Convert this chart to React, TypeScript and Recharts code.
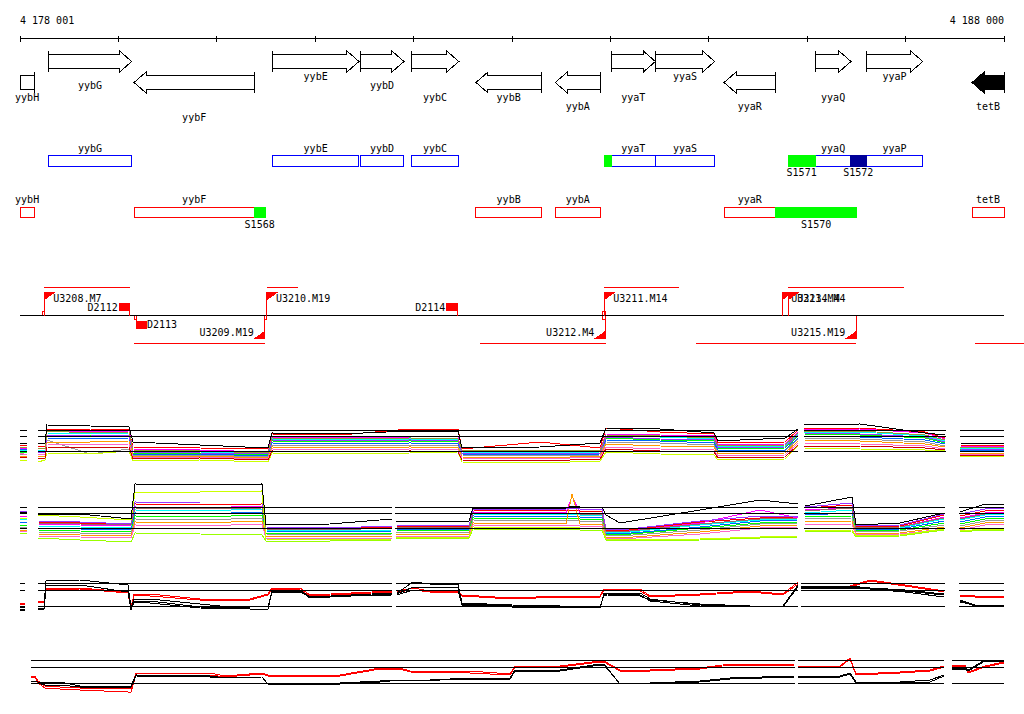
import React from 'react'
import { ComposedChart, XAxis, YAxis, Line, ReferenceLine, ReferenceArea, ReferenceDot } from 'recharts'

const X0 = 4178000
const X1 = 4188000
const G = null

// ---- ruler ----
const rulerTicks = [4178000, 4179000, 4180000, 4181000, 4182000, 4183000, 4184000, 4185000, 4186000, 4187000, 4188000]
const rulerLabelPos = [4178000, 4188000]
const rulerLabels = ['4 178 001', '4 188 000']

// ---- genes ----
const geneNames = ['yybH', 'yybG', 'yybF', 'yybE', 'yybD', 'yybC', 'yybB', 'yybA', 'yyaT', 'yyaS', 'yyaR', 'yyaQ', 'yyaP', 'tetB']
const geneStart = [4177950, 4178288, 4179159, 4180564, 4181458, 4181977, 4182634, 4183440, 4184009, 4184457, 4185155, 4186082, 4186600, 4187675]
const geneEnd = [4178145, 4179135, 4180381, 4181445, 4181902, 4182459, 4183298, 4183897, 4184457, 4185060, 4185676, 4186445, 4187174, 4188000]
const geneStrand = ['-', '+', '-', '+', '+', '+', '-', '-', '+', '+', '-', '+', '+', '-']
const highlighted = ['tetB']

// ---- sites ----
const siteNames = ['', 'S1568', 'S1570', 'S1571', 'S1572']
const siteStart = [4183945, 4180381, 4185676, 4185805, 4186438]
const siteEnd = [4184009, 4180490, 4186506, 4186082, 4186600]
const siteStrand = ['+', '-', '-', '+', '+']
const siteClass = ['a', 'a', 'a', 'a', 'b']

// ---- transcription units ----
const promoterNames = ['U3208.M7', 'U3209.M19', 'U3210.M19', 'U3211.M14', 'U3212.M4', 'U3213.M4', 'U3214.M4', 'U3215.M19']
const promoterPos = [4178247, 4180487, 4180510, 4183938, 4183948, 4185747, 4185808, 4186499]
const promoterStrand = ['+', '-', '+', '+', '-', '+', '+', '-']

const termNames = ['D2112', 'D2113', 'D2114']
const termPos = [4179115, 4179179, 4182444]
const termStrand = ['+', '-', '+']

const txStart = [4178247, 4180510, 4183938, 4185808, 4179159, 4182675, 4184870, 4187709]
const txEnd = [4179115, 4180822, 4184694, 4186981, 4180487, 4183952, 4186499, 4188200]
const txStrand = ['+', '+', '+', '+', '-', '-', '-', '-']

const tssStart = [4178227, 4179159, 4180480, 4183922]
const tssEnd = [4178247, 4179189, 4180510, 4183952]
const tssSide = ['up', 'down', 'down', 'both']

// ---- panel 1 ----
const p1Pos = [4178000, 4178071, 4178122, 4178183, 4178254, 4178274, 4178711, 4179108, 4179148, 4179829, 4180520, 4180561, 4181252, 4181964, 4182451, 4182492, 4183285, 4183895, 4183955, 4184504, 4185053, 4185094, 4185775, 4185907, 4185937, 4185968, 4186537, 4187198, 4187401, 4187472, 4187553, 4188000]
const p1Refs = [0, 1.5, 2.1]
const p1Segments = [[4178000, 4178068], [4178183, 4185907], [4185968, 4187408], [4187550, 4188000]]
const p1Lines = [
  [0.6, 0.5, G, 0.4, 0.5, 2.2, 2.2, 2.1, 0.4, 0.3, 0.2, 1.7, 1.6, 2.2, 2.2, 0.2, 0.9, 0.3, 2.3, 1.9, 1.7, 0.8, 0.9, 2.1, G, 2.3, 2.3, 1.9, 1.3, G, 0.6, 0.5],
  [0.3, 0.2, G, 0.2, 0.3, 2.0, 1.9, 2.0, 0.2, 0.1, -0.1, 1.4, 1.3, 1.4, 1.4, 0.0, 0.0, 0.1, 1.7, 1.6, 1.5, 0.6, 0.7, 1.9, G, 2.1, 2.2, 1.8, 1.2, G, 0.5, 0.4],
  [0.1, 0.0, G, 0.1, 0.1, 1.8, 1.7, 1.8, 0.0, -0.1, -0.2, 1.2, 1.1, 1.2, 1.1, -0.1, -0.2, -0.1, 1.5, 1.4, 1.2, 0.4, 0.5, 1.7, G, 1.9, 1.9, 1.5, 1.0, G, 0.3, 0.3],
  [-0.1, -0.2, G, -0.1, -0.2, 1.5, 1.5, 1.6, -0.2, -0.2, -0.4, 1.0, 0.9, 1.0, 0.9, -0.2, -0.3, -0.2, 1.3, 1.1, 1.0, 0.2, 0.3, 1.5, G, 1.7, 1.6, 1.3, 0.8, G, 0.1, 0.2],
  [0.2, 0.1, G, 0.0, 0.0, 1.3, 1.2, 1.3, -0.3, -0.3, -0.5, 0.8, 0.7, 0.8, 0.7, -0.3, -0.4, -0.3, 1.1, 1.0, 0.8, 0.1, 0.1, 1.3, G, 1.5, 1.4, 1.1, 0.7, G, 0.0, 0.1],
  [-0.3, -0.3, G, -0.3, -0.4, 1.1, -0.3, 0.2, -0.4, -0.4, -0.6, 0.6, 0.6, 0.6, 0.5, -0.4, -0.5, -0.4, 0.9, 0.8, 0.6, -0.1, 0.0, 1.2, G, 1.3, 1.2, 0.9, 0.5, G, -0.1, 0.0],
  [-0.5, -0.5, G, -0.5, -0.5, 0.9, 0.9, 1.0, -0.5, -0.5, -0.7, 0.4, 0.3, 0.4, 0.3, -0.6, -0.7, -0.5, 0.7, 0.5, 0.4, -0.3, -0.2, 1.0, G, 1.1, 1.0, 0.7, 0.4, G, -0.2, -0.2],
  [-1.0, -0.9, G, -1.1, -0.9, -0.2, -0.3, 0.0, -1.0, -0.9, -1.1, -0.2, -0.3, -0.2, -0.1, -1.1, -1.2, -1.0, -0.1, -0.3, -0.4, -0.9, -0.8, 0.5, G, 0.3, 0.2, 0.1, 0.0, G, -0.6, -0.5],
  [0.0, -0.1, G, -0.2, -0.1, 1.6, 1.6, 1.5, -0.1, -0.2, -0.3, 1.1, 1.0, 1.1, 1.0, -0.2, -0.2, -0.2, 1.4, 1.2, 1.1, 0.3, 0.4, 1.6, G, 1.8, 1.7, 1.4, 0.9, G, 0.2, 0.1],
  [-0.2, -0.4, G, -0.4, -0.3, 0.7, 0.6, 0.7, -0.6, -0.6, -0.8, 0.2, 0.1, 0.2, 0.1, -0.7, -0.8, -0.6, 0.4, 0.2, 0.1, -0.5, -0.4, 0.8, G, 0.8, 0.7, 0.5, 0.2, G, -0.3, -0.3],
  [-0.7, -0.6, G, -0.8, -0.7, 0.4, 0.3, 0.4, -0.8, -0.7, -0.9, 0.0, -0.1, 0.0, -0.1, -0.9, -1.0, -0.8, 0.2, 0.0, -0.1, -0.7, -0.6, 0.6, G, 0.5, 0.5, 0.3, 0.1, G, -0.5, -0.4],
  [0.4, 0.3, G, 0.3, 0.2, 2.0, 1.8, 1.9, 0.1, 0.0, -0.2, 1.3, 1.2, 1.3, 1.2, 0.1, 0.1, 0.0, 1.6, 1.5, 1.3, 0.5, 0.6, 1.8, G, 2.0, 2.0, 1.6, 1.1, G, 0.4, 0.4],
]
const p1Colors = ['#ff0000', '#ff00ff', '#00ffff', '#00ff00', '#0066ff', '#999999', '#ff9900', '#ccff00', '#9933ff', '#ff66cc', '#cc0000', '#999933']
const p1Black = [
  [0.8, 0.8, G, 0.8, 0.8, 2.6, 2.5, 2.4, 0.9, 0.6, 0.3, 1.8, 1.7, 2.0, 2.0, 0.3, 0.4, 0.8, 2.3, 2.2, 1.8, 1.0, 1.3, 2.2, G, 2.6, 2.7, 1.8, 1.6, G, 0.8, 0.7],
]

// ---- panel 2 ----
const p2Pos = [4178000, 4178071, 4178122, 4178183, 4178610, 4179128, 4179169, 4179829, 4180459, 4180500, 4181151, 4181781, 4181801, 4181821, 4182563, 4182604, 4183549, 4183610, 4183691, 4183915, 4183955, 4184098, 4184911, 4185521, 4185907, 4185937, 4185978, 4186456, 4186496, 4186943, 4187391, 4187472, 4187553, 4187807, 4188000]
const p2Refs = [0, 1.5, 2.1]
const p2Segments = [[4178000, 4178068], [4178183, 4181781], [4181814, 4185907], [4185971, 4187398], [4187543, 4188000]]
const p2Lines = [
  [1.5, 1.4, G, 0.6, 0.5, 0.3, 2.4, 2.3, 2.4, 0.0, -0.1, 0.1, G, 0.2, 0.1, 1.8, 1.7, 1.8, 1.7, 1.7, -0.2, -0.3, 0.6, 1.0, 1.1, G, 2.0, 2.3, 0.1, 0.2, 1.3, G, 1.2, 1.7, 1.8],
  [1.2, 1.1, G, 0.4, 0.3, 0.2, 2.1, 2.0, 2.2, -0.1, -0.2, 0.0, G, 0.1, 0.0, 1.6, 1.5, 3.2, 1.5, 1.5, -0.3, -0.4, 0.5, 1.8, 1.0, G, 1.8, 2.0, 0.0, 0.1, 1.1, G, 1.0, 1.5, 1.6],
  [0.9, 0.9, G, 0.2, 0.1, 0.0, 1.8, 1.7, 1.9, -0.2, -0.3, -0.2, G, 0.0, -0.1, 1.4, 1.3, 1.4, 1.3, 1.3, -0.4, -0.5, 0.3, 0.8, 0.9, G, 1.5, 1.8, -0.1, 0.0, 0.9, G, 0.8, 1.3, 1.4],
  [0.6, 0.6, G, 0.0, -0.1, -0.2, 1.5, 1.4, 1.6, -0.3, -0.4, -0.3, G, -0.1, -0.2, 1.2, 1.1, 1.2, 1.1, 1.1, -0.5, -0.6, 0.1, 0.7, 0.8, G, 1.3, 1.5, -0.2, -0.1, 0.7, G, 0.6, 1.1, 1.2],
  [0.3, 0.3, G, -0.2, -0.3, -0.4, 1.2, 1.1, 1.3, -0.5, -0.5, -0.5, G, -0.2, -0.3, 1.0, 0.9, 1.0, 0.9, 0.9, -0.6, -0.7, 0.0, 0.5, 0.6, G, 1.1, 1.2, -0.3, -0.2, 0.5, G, 0.4, 0.9, 1.0],
  [0.0, 0.1, G, -0.4, -0.5, -0.5, 0.9, 0.8, 1.0, -0.6, -0.7, -0.6, G, -0.4, -0.4, 0.8, 0.7, 0.8, 0.7, 0.7, -0.7, -0.8, -0.2, 0.4, 0.5, G, 0.9, 1.0, -0.4, -0.3, 0.3, G, 0.2, 0.7, 0.8],
  [-0.2, -0.2, G, -0.6, -0.7, -0.8, 0.6, 0.5, 0.7, -0.8, -0.8, -0.8, G, -0.6, -0.6, 0.5, 0.4, 3.4, 0.4, 0.4, -0.9, -1.0, -0.4, 0.2, 0.3, G, 0.6, 0.7, -0.6, -0.5, 0.1, G, 0.0, 0.5, 0.6],
  [1.7, 1.6, G, 0.7, 0.6, 0.4, 2.6, 2.5, 2.5, 0.1, 0.0, 0.2, G, 0.3, 0.2, 1.9, 1.9, 2.0, 1.9, 1.9, -0.1, -0.2, 0.7, 1.2, 1.2, G, 2.1, 2.5, 0.2, 0.3, 1.4, G, 1.4, 1.9, 2.0],
  [1.0, 0.9, G, 0.5, 0.4, 0.3, 2.0, 1.9, 2.0, -0.1, -0.2, 0.0, G, 0.1, 0.0, 1.5, 1.4, 1.5, 1.4, 1.4, -0.3, -0.4, 0.4, 0.9, 1.0, G, 1.7, 2.0, 0.0, 0.1, 1.0, G, 0.9, 1.4, 1.5],
  [-0.4, -0.3, G, -0.8, -0.9, -1.0, 0.3, 0.2, 0.4, -1.0, -1.0, -1.0, G, -0.8, -0.8, 0.3, 0.2, 0.3, 0.2, 0.2, -1.0, -1.1, -0.6, 0.0, 0.1, G, 0.3, 0.4, -0.7, -0.6, -0.1, G, -0.2, 0.3, 0.4],
  [-0.5, -0.5, G, -1.0, -1.2, -1.4, -0.5, -0.6, -0.7, -1.3, -1.3, -1.2, G, -1.0, -1.0, -0.1, -0.2, -0.1, -0.2, -0.2, -1.2, -1.3, -1.2, -1.0, -0.9, G, -0.4, -0.3, -0.9, -0.8, -0.2, G, -0.4, -0.2, -0.2],
  [1.0, 0.9, G, 1.3, 1.1, 0.8, 3.6, 3.6, 3.7, -1.1, -1.2, -1.1, G, -0.9, -0.9, 0.1, 0.0, 0.1, 0.0, 0.0, -1.1, -1.2, -1.1, -0.9, -0.8, G, -0.3, -0.2, -0.8, -0.7, -0.1, G, -0.3, -0.1, -0.1],
]
const p2Colors = ['#ff0000', '#ff00ff', '#00ffff', '#0066ff', '#00ff00', '#999999', '#ff9900', '#9933ff', '#996666', '#ff66cc', '#99ff00', '#ccff00']
const p2Black = [
  [1.6, 1.6, G, 1.4, 1.4, 0.9, 4.4, 4.3, 4.4, 0.3, 0.4, 0.9, G, 0.7, 0.7, 2.0, 2.0, 2.2, 2.1, 2.1, 1.3, 0.5, 1.8, 2.8, 2.4, G, 2.2, 3.1, 0.3, 0.5, 1.5, G, 1.6, 2.4, 2.4],
]

// ---- panel 3 ----
const p3Pos = [4178000, 4178051, 4178102, 4178183, 4178244, 4178264, 4178610, 4179098, 4179128, 4179159, 4179321, 4179829, 4180337, 4180520, 4180561, 4180846, 4180948, 4181781, 4181801, 4181831, 4181994, 4182168, 4182451, 4182492, 4183000, 4183488, 4183895, 4183935, 4183966, 4184301, 4184403, 4184911, 4185419, 4185754, 4185907, 4185922, 4185937, 4186435, 4186639, 4186994, 4187391, 4187472, 4187553, 4187706, 4188000]
const p3Refs = [0, 1.6, 2.3]
const p3Segments = [[4178000, 4178051], [4178183, 4181781], [4181818, 4185907], [4185937, 4187398], [4187543, 4188000]]
const p3Lines = [
  [0.3, 0.3, G, 0.5, 0.5, 1.8, 1.8, 1.4, -0.2, 1.2, 1.2, 0.7, 0.7, 1.2, 1.8, 1.8, 1.1, 1.5, G, 1.5, 1.8, 1.5, 1.5, 1.1, 0.8, 1.0, 1.0, 1.7, 1.7, 1.7, 1.0, 1.2, 1.5, 1.2, 2.4, G, 2.0, 2.0, 2.6, 2.1, 1.5, G, 1.1, 1.0, 0.9],
  [0.2, 0.2, G, 0.4, 0.4, 1.6, 1.7, 1.3, -0.4, 1.1, 1.0, 0.6, 0.6, 1.1, 1.7, 1.6, 1.0, 1.4, G, 1.4, 1.6, 1.4, 1.4, 1.0, 0.7, 0.9, 0.9, 1.6, 1.6, 1.5, 0.9, 1.1, 1.4, 1.1, 2.2, G, 1.9, 1.9, 2.5, 2.0, 1.4, G, 1.0, 0.9, 0.8],
]
const p3Colors = ['#ff0000', '#ff0000']
const p3Black = [
  [-0.1, -0.1, G, 0.0, 0.0, 2.5, 2.6, 2.1, -0.2, 0.7, 0.7, 0.2, -0.3, -0.3, 1.6, 1.6, 0.9, 1.3, G, 1.3, 2.4, 2.2, 2.2, 0.3, 0.1, 0.0, -0.2, 1.3, 1.3, 1.3, 0.7, 0.1, 0.0, 0.0, 2.1, G, 2.0, 2.0, 1.8, 1.6, 1.2, G, 0.6, 0.1, 0.1],
  [-0.3, -0.3, G, -0.2, -0.2, 2.1, 2.1, 1.4, -0.3, 0.5, 0.5, -0.1, -0.2, -0.2, 1.5, 1.5, 0.8, 1.2, G, 1.2, 1.9, 1.9, 1.9, 0.2, 0.0, -0.1, -0.2, 1.2, 1.2, 1.1, 0.5, 0.0, -0.1, -0.1, 2.0, G, 1.9, 1.9, 1.7, 1.5, 1.1, G, 0.5, 0.0, 0.0],
  [-0.4, -0.4, G, -0.3, -0.3, 1.6, 1.6, 1.5, -0.4, 0.4, 0.3, -0.2, -0.3, -0.3, 1.4, 1.4, 0.9, 1.1, G, 1.1, 1.6, 1.6, 1.6, 0.1, -0.1, -0.1, -0.1, 1.1, 1.1, 1.0, 0.6, 0.2, 0.0, 0.0, 1.9, G, 1.8, 1.8, 1.7, 1.4, 0.9, G, 0.4, 0.1, 0.1],
]

// ---- panel 4 ----
const p4Pos = [4178112, 4178152, 4178183, 4178254, 4178407, 4178610, 4179098, 4179128, 4179179, 4179931, 4180083, 4180459, 4180520, 4181252, 4181659, 4181862, 4181964, 4182573, 4182980, 4183031, 4183488, 4183895, 4183935, 4184098, 4184403, 4184911, 4185216, 4185866, 4185887, 4185907, 4186334, 4186435, 4186496, 4186943, 4187248, 4187391, 4187431, 4187472, 4187604, 4187635, 4187807, 4188000]
const p4Refs = [0, 1.6, 2.3]
const p4Segments = [[4178112, 4185873], [4185907, 4187391], [4187472, 4188000]]
const p4Lines = [
  [0.7, 0.7, 0.2, -0.3, -0.4, -0.5, -0.5, -0.5, 1.0, 1.0, 0.7, 1.0, 0.8, 0.8, 1.5, 1.5, 1.2, 1.2, 0.9, 1.7, 1.7, 2.2, 2.2, 1.3, 1.3, 1.5, 1.9, 1.9, G, 1.7, 1.7, 2.5, 0.9, 1.1, 1.3, 1.7, G, 1.8, 1.8, 1.1, 1.7, 2.1],
  [0.6, 0.6, 0.0, -0.5, -0.6, -0.7, -0.9, -0.9, 0.8, 0.8, 0.6, 0.9, 0.7, 0.7, 1.4, 1.4, 1.1, 1.0, 0.8, 1.6, 1.6, 2.1, 2.1, 1.2, 1.2, 1.4, 1.8, 1.8, G, 1.6, 1.6, 2.4, 0.8, 1.0, 1.2, 1.6, G, 1.7, 1.7, 1.0, 1.6, 2.0],
]
const p4Colors = ['#ff0000', '#ff0000']
const p4Black = [
  [0.2, 0.2, 0.1, 0.1, 0.1, -0.3, -0.3, -0.3, 0.8, 0.7, 0.5, 0.6, -0.1, -0.1, 0.1, 0.3, 0.2, 0.5, 0.5, 1.3, 1.3, 1.9, 1.9, -0.1, 0.0, 0.2, 0.5, 0.7, G, 0.7, 0.7, 1.0, 0.1, 0.1, 0.3, 0.8, G, 1.5, 1.5, 1.3, 2.3, 2.3],
  [0.0, 0.0, 0.0, -0.2, -0.2, -0.4, -0.4, -0.4, 0.7, 0.6, 0.5, 0.6, -0.1, 0.0, 0.2, 0.3, 0.2, 0.4, 0.4, 1.2, 1.2, 1.8, 1.8, -0.1, 0.0, 0.1, 0.4, 0.6, G, 0.6, 0.6, 0.9, 0.0, 0.0, 0.1, 0.7, G, 1.4, 1.4, 1.2, 2.2, 2.2],
]

// ---- layout ----
const W = 1024
const MARGIN = { top: 0, right: 20, bottom: 0, left: 20 }
const TOP_H = 360
const ROW = {
  ruler: 38.5,
  rulerLabel: 24,
  tick: 3,
  fwdGene: [51, 72],
  revGene: [72, 93],
  geneLabel: [80, 89, 101, 109.5, 121],
  fwdBox: [155.5, 166.5],
  fwdBoxLabel: 152,
  fwdSiteLabel: 176,
  revBox: [207.5, 217.5],
  revBoxLabel: 203,
  revSiteLabel: 228,
  fwdTx: 287.5,
  baseline: 315.5,
  revTx: 343.5,
}
const geneLabelRow = [2, 1, 4, 0, 1, 2, 2, 3, 2, 0, 3, 2, 0, 3]
const FONT = { fontFamily: '"DejaVu Sans Mono", monospace', fontSize: 10, fill: '#000' }
const RED = '#ff0000'
const BOX_STROKE = { '+': '#0000ff', '-': '#ff0000' }
const SITE_FILL = { a: '#00ff00', b: '#000099' }

function GeneGlyph(p: any) {
  const { x, y, width, height, strand, filled, clipped, label, labelY } = p
  const hl = clipped ? 0 : Math.min(12, width)
  const t = y + 3
  const b = y + height - 4
  const m = y + height / 2
  let pts: number[][]
  if (clipped) {
    pts = [[x, t], [x + width, t], [x + width, b], [x, b]]
  } else if (strand === '+') {
    const hx = x + width - hl
    pts = [[x, t], [hx, t], [hx, y], [x + width, m], [hx, y + height], [hx, b], [x, b]]
  } else {
    const hx = x + hl
    pts = [[x + width, t], [hx, t], [hx, y], [x, m], [hx, y + height], [hx, b], [x + width, b]]
  }
  const tail = strand === '+' ? x : x + width
  return (
    <g>
      <polygon points={pts.map((q) => q.join(',')).join(' ')} fill={filled ? '#000' : '#fff'} stroke="#000" strokeWidth={1} />
      <line x1={tail} x2={tail} y1={y} y2={y + height} stroke="#000" />
      <text x={x + width / 2} y={labelY} textAnchor="middle" {...FONT}>{label}</text>
    </g>
  )
}

function BoxGlyph(p: any) {
  const { x, y, width, height, boxFill, boxStroke, label, labelY } = p
  return (
    <g>
      <rect x={x} y={y} width={width} height={height} fill={boxFill} stroke={boxStroke} strokeWidth={1} />
      {label ? <text x={x + width / 2} y={labelY} textAnchor="middle" {...FONT}>{label}</text> : null}
    </g>
  )
}

function PromoterGlyph(p: any) {
  const { cx, cy, strand, label } = p
  if (strand === '+') {
    const top = cy - 23
    return (
      <g>
        <line x1={cx} x2={cx} y1={cy} y2={top} stroke={RED} />
        <polygon points={`${cx},${top} ${cx + 10},${top} ${cx},${top + 7}`} fill={RED} stroke={RED} />
        <text x={cx + 9} y={cy - 14} {...FONT}>{label}</text>
      </g>
    )
  }
  const bot = cy + 23
  return (
    <g>
      <line x1={cx} x2={cx} y1={cy} y2={bot} stroke={RED} />
      <polygon points={`${cx},${bot} ${cx - 10},${bot} ${cx},${bot - 7}`} fill={RED} stroke={RED} />
      <text x={cx - 11} y={cy + 20} textAnchor="end" {...FONT}>{label}</text>
    </g>
  )
}

function TermGlyph(p: any) {
  const { cx, cy, strand, label } = p
  if (strand === '+') {
    return (
      <g>
        <line x1={cx} x2={cx} y1={cy} y2={cy - 13} stroke={RED} />
        <rect x={cx - 11} y={cy - 13} width={11} height={8} fill={RED} />
        <text x={cx - 12} y={cy - 5} textAnchor="end" {...FONT}>{label}</text>
      </g>
    )
  }
  return (
    <g>
      <line x1={cx} x2={cx} y1={cy} y2={cy + 5} stroke={RED} />
      <rect x={cx} y={cy + 5} width={11} height={8} fill={RED} />
      <text x={cx + 11} y={cy + 12} {...FONT}>{label}</text>
    </g>
  )
}

function TextGlyph(p: any) {
  const { cx, cy, label, anchor } = p
  return <text x={cx} y={cy} textAnchor={anchor} {...FONT}>{label}</text>
}

function TopTracks() {
  const data = rulerTicks.map((pos) => ({ pos }))
  return (
    <ComposedChart width={W} height={TOP_H} data={data} margin={MARGIN}>
      <XAxis type="number" dataKey="pos" domain={[X0, X1]} allowDataOverflow hide />
      <YAxis type="number" domain={[0, TOP_H]} reversed allowDataOverflow hide />

      <ReferenceLine segment={[{ x: X0, y: ROW.ruler }, { x: X1, y: ROW.ruler }]} stroke="#000" ifOverflow="visible" />
      {rulerTicks.map((t) => (
        <ReferenceLine key={'t' + t} segment={[{ x: t, y: ROW.ruler - ROW.tick }, { x: t, y: ROW.ruler + ROW.tick }]} stroke="#000" ifOverflow="visible" />
      ))}
      {rulerLabelPos.map((pos, i) => (
        <ReferenceDot key={'rl' + i} x={pos} y={ROW.rulerLabel} ifOverflow="visible"
          shape={(p: any) => <TextGlyph {...p} label={rulerLabels[i]} anchor={i === 0 ? 'start' : 'end'} />} />
      ))}

      {geneNames.map((name, i) => {
        const rows = geneStrand[i] === '+' ? ROW.fwdGene : ROW.revGene
        return (
          <ReferenceArea key={'g' + name} x1={Math.max(geneStart[i], X0)} x2={geneEnd[i]} y1={rows[0]} y2={rows[1]} ifOverflow="visible"
            shape={(p: any) => (
              <GeneGlyph {...p} strand={geneStrand[i]} filled={highlighted.includes(name)} clipped={geneStart[i] < X0}
                label={name} labelY={ROW.geneLabel[geneLabelRow[i]]} />
            )} />
        )
      })}

      {geneNames.map((name, i) => {
        const fwd = geneStrand[i] === '+'
        const rows = fwd ? ROW.fwdBox : ROW.revBox
        return (
          <ReferenceArea key={'b' + name} x1={Math.max(geneStart[i], X0)} x2={geneEnd[i]} y1={rows[0]} y2={rows[1]} ifOverflow="visible"
            shape={(p: any) => (
              <BoxGlyph {...p} boxFill="#fff" boxStroke={BOX_STROKE[geneStrand[i]]} label={name} labelY={fwd ? ROW.fwdBoxLabel : ROW.revBoxLabel} />
            )} />
        )
      })}
      {siteNames.map((name, i) => {
        const fwd = siteStrand[i] === '+'
        const rows = fwd ? ROW.fwdBox : ROW.revBox
        const fill = SITE_FILL[siteClass[i]]
        return (
          <ReferenceArea key={'s' + i} x1={siteStart[i]} x2={siteEnd[i]} y1={rows[0]} y2={rows[1]} ifOverflow="visible"
            shape={(p: any) => (
              <BoxGlyph {...p} boxFill={fill} boxStroke={fill} label={name} labelY={fwd ? ROW.fwdSiteLabel : ROW.revSiteLabel} />
            )} />
        )
      })}

      <ReferenceLine segment={[{ x: X0, y: ROW.baseline }, { x: X1, y: ROW.baseline }]} stroke="#000" ifOverflow="visible" />
      {txStart.map((s, i) => {
        const y = txStrand[i] === '+' ? ROW.fwdTx : ROW.revTx
        return <ReferenceLine key={'tx' + i} segment={[{ x: s, y }, { x: txEnd[i], y }]} stroke={RED} ifOverflow="visible" />
      })}
      {tssStart.map((s, i) => {
        const y1 = tssSide[i] === 'down' ? ROW.baseline : ROW.baseline - 4
        const y2 = tssSide[i] === 'up' ? ROW.baseline : ROW.baseline + 4
        return (
          <ReferenceArea key={'tss' + i} x1={s} x2={tssEnd[i]} y1={y1} y2={y2} ifOverflow="visible"
            shape={(p: any) => <BoxGlyph {...p} boxFill="#fff" boxStroke={RED} />} />
        )
      })}
      {promoterNames.map((name, i) => (
        <ReferenceDot key={'pr' + name} x={promoterPos[i]} y={ROW.baseline} ifOverflow="visible"
          shape={(p: any) => <PromoterGlyph {...p} strand={promoterStrand[i]} label={name} />} />
      ))}
      {termNames.map((name, i) => (
        <ReferenceDot key={'tm' + name} x={termPos[i]} y={ROW.baseline} ifOverflow="visible"
          shape={(p: any) => <TermGlyph {...p} strand={termStrand[i]} label={name} />} />
      ))}
    </ComposedChart>
  )
}

function Panel({ top, height, domain, pos, lines, colors, blacks, refs, segments }: any) {
  const data = pos.map((p: number, i: number) => {
    const row: Record<string, number | null> = { pos: p }
    lines.forEach((s: (number | null)[], k: number) => { row['c' + k] = s[i] })
    blacks.forEach((s: (number | null)[], k: number) => { row['k' + k] = s[i] })
    return row
  })
  return (
    <div style={{ position: 'absolute', left: 0, top }}>
      <ComposedChart width={W} height={height} data={data} margin={MARGIN}>
        <XAxis type="number" dataKey="pos" domain={[X0, X1]} allowDataOverflow hide />
        <YAxis type="number" domain={domain} allowDataOverflow hide />
        {lines.map((_: any, k: number) => (
          <Line key={'c' + k} dataKey={'c' + k} type="linear" stroke={colors[k]} strokeWidth={1} dot={false} activeDot={false} isAnimationActive={false} />
        ))}
        {blacks.map((_: any, k: number) => (
          <Line key={'k' + k} dataKey={'k' + k} type="linear" stroke="#000" strokeWidth={1} dot={false} activeDot={false} isAnimationActive={false} />
        ))}
        {segments.map(([a, b]: number[], j: number) =>
          refs.map((r: number, q: number) => (
            <ReferenceLine key={'r' + j + '-' + q} segment={[{ x: a, y: r }, { x: b, y: r }]} stroke="#000" ifOverflow="visible" />
          ))
        )}
      </ComposedChart>
    </div>
  )
}

export default function App() {
  return (
    <div style={{ position: 'absolute', left: 0, top: 0, width: W, height: 714, background: '#fff', overflow: 'hidden' }}>
      <style>{'svg line, svg path, svg rect, svg polygon { shape-rendering: crispEdges; }'}</style>
      <div style={{ position: 'absolute', left: 0, top: 0 }}>
        <TopTracks />
      </div>
      <Panel top={411} height={60} domain={[-2, 4]} pos={p1Pos} lines={p1Lines} colors={p1Colors} blacks={p1Black} refs={p1Refs} segments={p1Segments} />
      <Panel top={478} height={70} domain={[-2, 5]} pos={p2Pos} lines={p2Lines} colors={p2Colors} blacks={p2Black} refs={p2Refs} segments={p2Segments} />
      <Panel top={566} height={54} domain={[-1.4, 4]} pos={p3Pos} lines={p3Lines} colors={p3Colors} blacks={p3Black} refs={p3Refs} segments={p3Segments} />
      <Panel top={643} height={57} domain={[-1.7, 4]} pos={p4Pos} lines={p4Lines} colors={p4Colors} blacks={p4Black} refs={p4Refs} segments={p4Segments} />
    </div>
  )
}
